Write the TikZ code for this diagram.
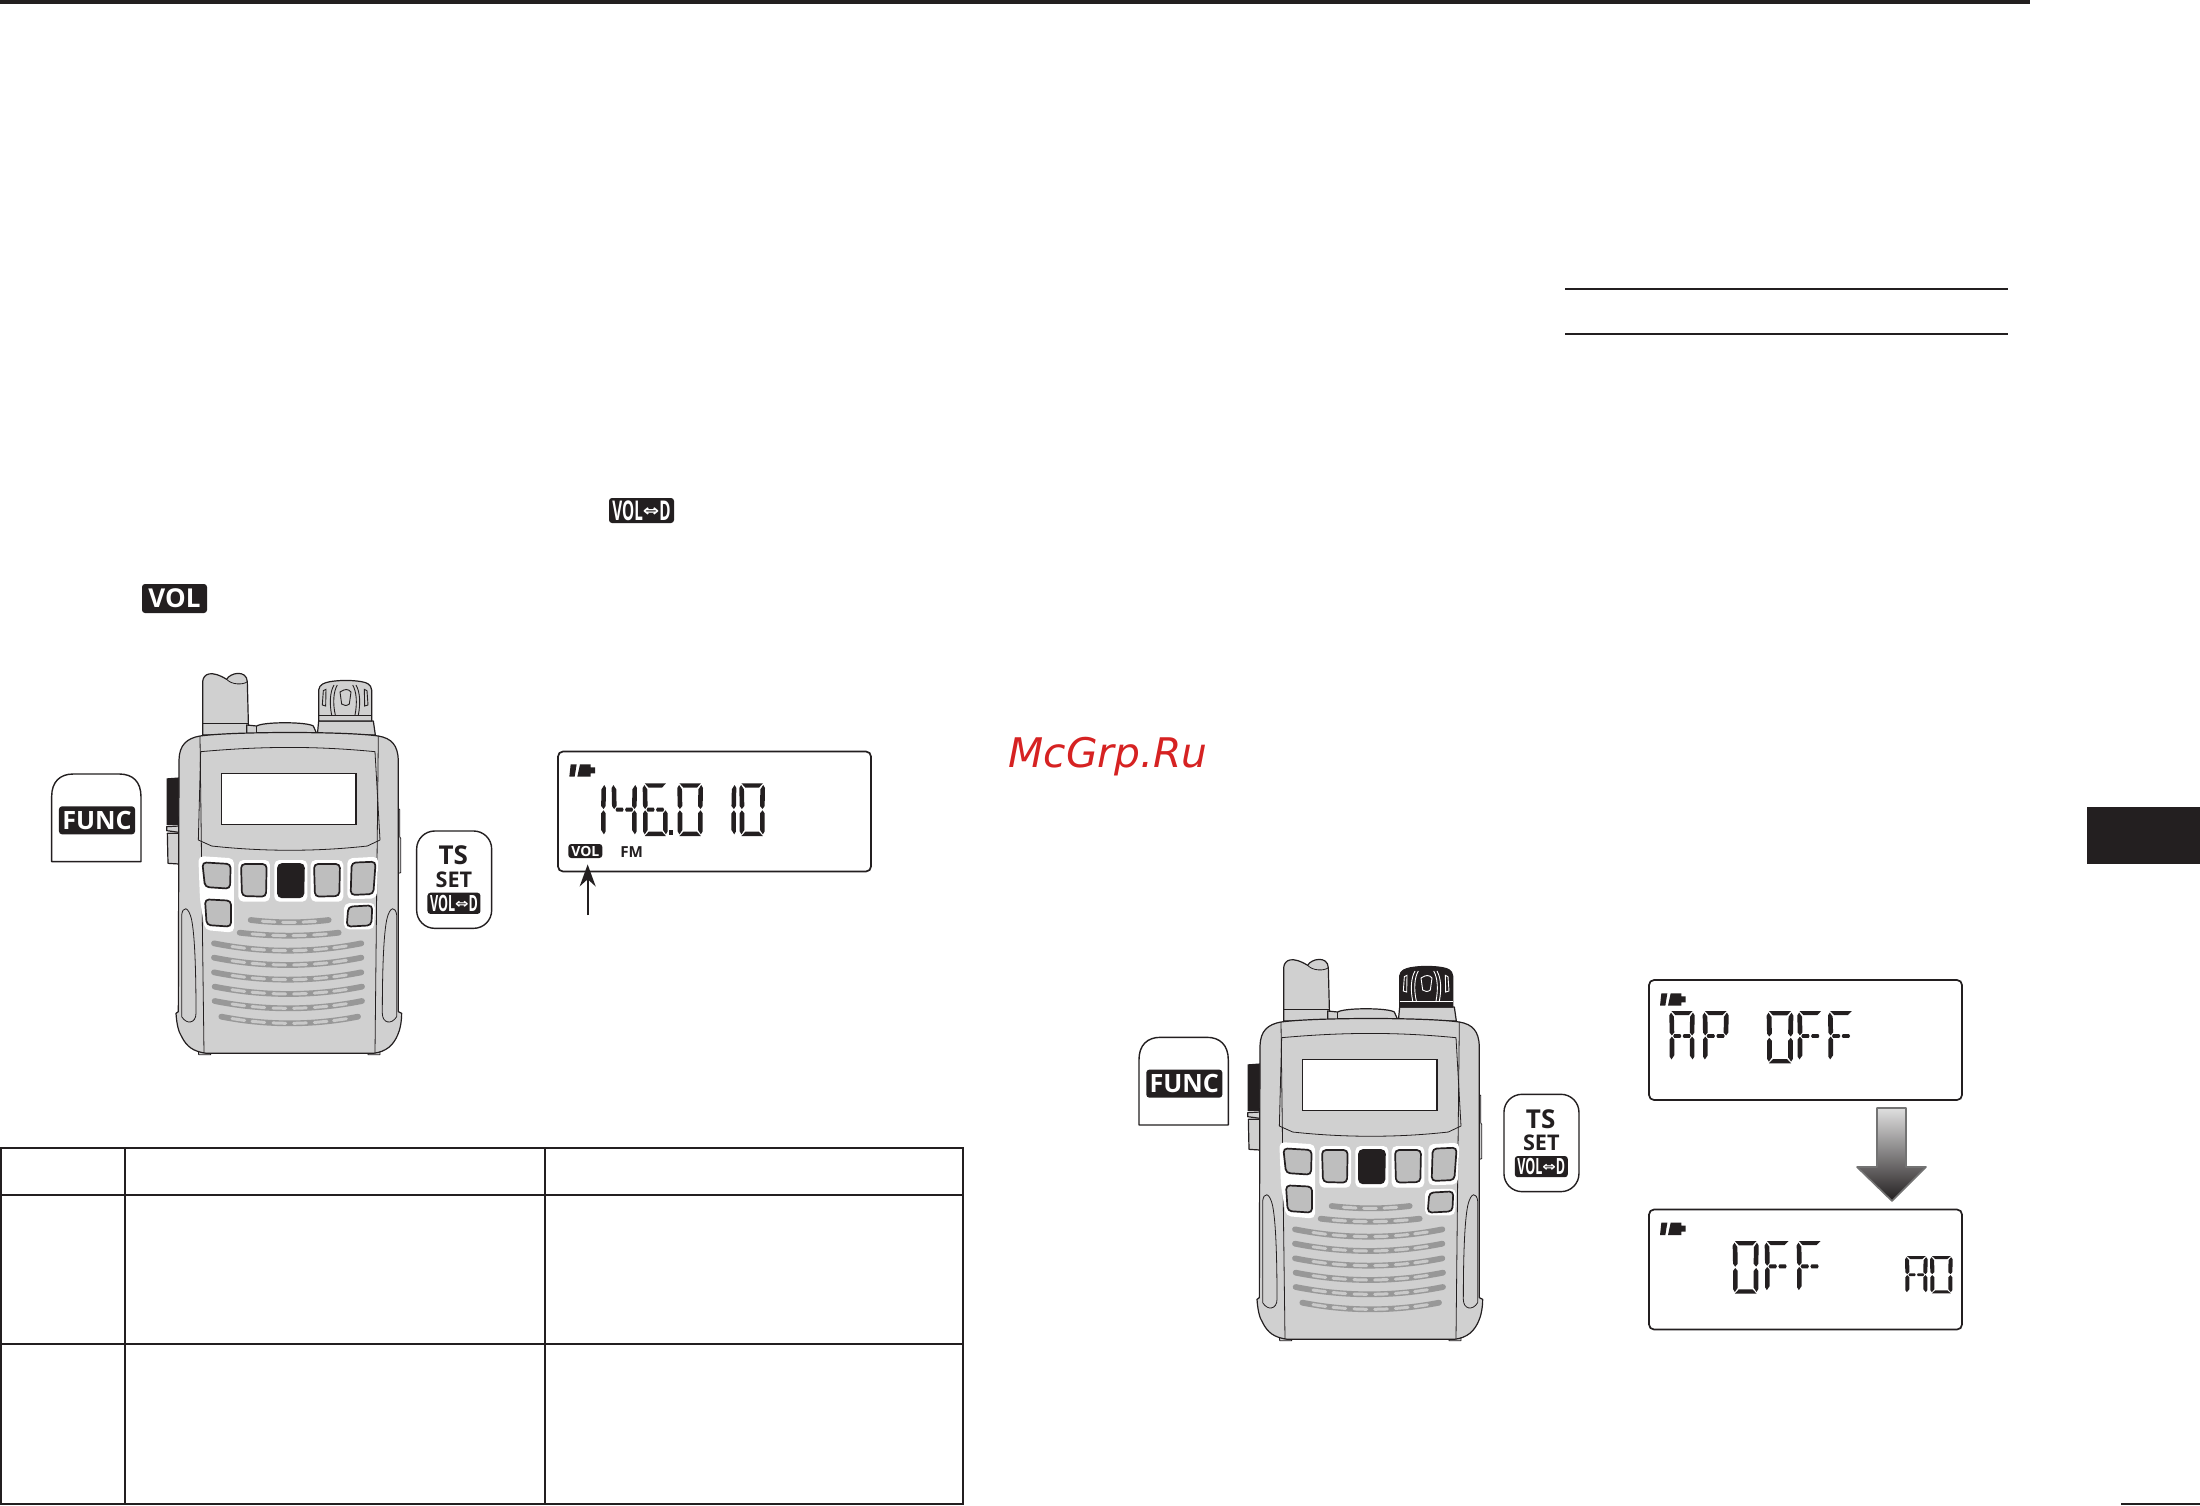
\documentclass[tikz,border=0pt]{standalone}
\usepackage{fontspec}
\usetikzlibrary{arrows.meta}
\setmainfont{Open Sans}
\newfontfamily\symf{DejaVu Sans}
\definecolor{ink}{HTML}{231F20}
\definecolor{bodyg}{HTML}{D0D0D0}
\definecolor{btng}{HTML}{BEBEBE}
\definecolor{grillg}{HTML}{989898}
\definecolor{slotg}{HTML}{CACACA}
\definecolor{wmred}{HTML}{D62222}
\tikzset{
  ruleline/.style={draw=ink,line width=1pt},
  outline/.style={draw=ink,line width=0.6pt,line join=round},
  thinl/.style={draw=ink,line width=0.4pt,line join=round},
  btn/.style={draw=ink,line width=0.85pt,fill=btng,rounded corners=2pt},
  halo/.style={fill=white,rounded corners=2.5pt},
  badge/.style={fill=ink,text=white,rounded corners=1.5pt,inner sep=0pt,align=center},
  keyface/.style={draw=ink,line width=0.7pt,fill=white,line join=round},
  lcdbox/.style={draw=ink,line width=0.85pt,fill=white,rounded corners=2.5pt,inner sep=0pt},
  keytxt/.style={text=ink,inner sep=0pt,font=\bfseries},
}
% seven-segment pieces, in a 72 x 158 cell
\newcommand\sga{\fill[ink] (6,0)--(66,0)--(55,13)--(17,13)--cycle;}
\newcommand\sgd{\fill[ink] (17,145)--(55,145)--(66,158)--(6,158)--cycle;}
\newcommand\sgb{\fill[ink] (67,5)--(72,14)--(71,68)--(65,77)--(58,68)--(59,18)--cycle;}
\newcommand\sgc{\fill[ink] (65,81)--(71,90)--(71,144)--(66,153)--(58,140)--(58,90)--cycle;}
\newcommand\sgf{\fill[ink] (5,5)--(13,18)--(14,68)--(7,77)--(1,68)--(0,14)--cycle;}
\newcommand\sge{\fill[ink] (7,81)--(14,90)--(14,140)--(6,153)--(1,144)--(1,90)--cycle;}
\newcommand\sgl{\fill[ink] (14,73)--(31,73)--(34,79)--(31,85)--(14,85)--(11,79)--cycle;}
\newcommand\sgr{\fill[ink] (41,73)--(58,73)--(61,79)--(58,85)--(41,85)--(38,79)--cycle;}
\newcommand\lcddigit[5]{\begin{scope}[shift={(#1,#2)},xscale=#3/72,yscale=#4/158]#5\end{scope}}
\newcommand\battery[2]{\begin{scope}[shift={(#1,#2)}]
  \fill[ink] (4,0)--(22,0)--(16,37)--(0,37)--cycle;
  \fill[ink] (32,0)--(64,0)--(64,9)--(77,9)--(77,27)--(64,27)--(64,37)--(24,37)--cycle;
\end{scope}}
\newcommand\voldtxt{\bfseries\scalebox{0.56}[1]{VOL}\raisebox{.14em}{\scalebox{0.72}[0.6]{\symf ⇔}}\scalebox{0.56}[1]{D}}
% speaker row: x1,x2,end y,dip,slot centres
\newcommand\grillrow[5]{%
  \pgfmathsetmacro\gm{(#1+#2)/2}\pgfmathsetmacro\gh{(#2-#1)/2}
  \draw[grillg,line width=2.9pt,line cap=round] (#1,#3) .. controls ({#1+\gh*0.66},{#3+#4*1.33}) and ({#2-\gh*0.66},{#3+#4*1.33}) .. (#2,#3);
  \foreach \sx in {#5}{
    \pgfmathsetmacro\ta{(\sx-19-\gm)/\gh}
    \pgfmathsetmacro\tb{(\sx+19-\gm)/\gh}
    \pgfmathsetmacro\ya{#3+#4*(1-\ta*\ta)}
    \pgfmathsetmacro\yb{#3+#4*(1-\tb*\tb)}
    \draw[slotg,line width=1.5pt,line cap=round] (\sx-19,\ya) -- (\sx+19,\yb);
  }}
\newcommand\radio[4]{\begin{scope}[shift={(#1,#2)},scale=1/3]
  % antenna
  \filldraw[outline,fill=bodyg] (518,285)--(518,125) .. controls (520,100) and (545,90) .. (590,118) .. controls (600,98) and (650,88) .. (652,125)--(656,285)--cycle;
  \draw[thinl] (590,118) .. controls (605,135) and (640,135) .. (652,125);
  \draw[thinl] (518,250)--(656,250);
  % top ridge
  \filldraw[outline,fill=bodyg] (650,255)--(680,258) .. controls (700,245) and (830,245) .. (850,258)--(862,285)--(650,285)--cycle;
  \draw[thinl] (680,258)--(680,280);
  % knob
  \filldraw[outline,fill=bodyg] (862,285)--(866,243)--(1030,243)--(1036,285)--cycle;
  \filldraw[outline,fill=#3] (866,243)--(866,150) .. controls (868,132) and (885,128) .. (900,125) .. controls (930,120) and (965,120) .. (995,125) .. controls (1010,128) and (1023,132) .. (1025,150)--(1025,243)--cycle;
  \draw[#4,line width=0.4pt] (866,227)--(1025,227);
  \draw[#4,line width=0.45pt] (930,156) .. controls (945,146) and (955,146) .. (963,156)--(958,192) .. controls (950,198) and (942,198) .. (935,192)--cycle;
  \draw[#4,line width=0.45pt] (905,225) .. controls (898,190) and (900,155) .. (912,135);
  \draw[#4,line width=0.45pt] (916,225) .. controls (908,190) and (910,155) .. (922,135);
  \draw[#4,line width=0.45pt] (985,225) .. controls (992,190) and (990,155) .. (978,135);
  \draw[#4,line width=0.45pt] (975,225) .. controls (982,190) and (980,155) .. (968,135);
  \draw[#4,line width=0.45pt] (877,195)--(880,152)--(888,148)--(887,198)--cycle;
  \draw[#4,line width=0.45pt] (1014,195)--(1011,152)--(1003,148)--(1004,198)--cycle;
  % side controls
  \fill[ink] (410,415)--(450,412)--(450,555)--(410,555)--cycle;
  \filldraw[outline,fill=bodyg] (412,580)--(447,580)--(447,672)--(414,670)--cycle;
  \filldraw[outline,fill=bodyg] (410,560)--(447,558)--(447,577)--(410,572)--cycle;
  \filldraw[thinl,fill=bodyg] (1098,505)--(1109,508)--(1109,590)--(1112,595)--(1112,698)--(1098,702)--cycle;
  % feet
  \filldraw[thinl,fill=bodyg] (505,1225)--(540,1225)--(542,1244)--(506,1244)--cycle;
  \filldraw[thinl,fill=bodyg] (1014,1225)--(1049,1225)--(1050,1244)--(1014,1244)--cycle;
  % body
  \filldraw[outline,fill=bodyg] (510,288) .. controls (470,295) and (448,315) .. (447,360)--(445,1115)--(438,1120) .. controls (440,1150) and (445,1175) .. (455,1190) .. controls (470,1220) and (490,1235) .. (530,1240)--(1030,1240) .. controls (1070,1235) and (1090,1215) .. (1103,1185) .. controls (1110,1170) and (1115,1145) .. (1115,1120)--(1105,1115)--(1105,360) .. controls (1103,315) and (1085,295) .. (1045,288) .. controls (950,274) and (610,274) .. cycle;
  \draw[thinl] (510,288)--(522,1240);
  \draw[thinl] (1045,288)--(1035,1240);
  % side grips
  \draw[thinl] (455,1130)--(455,825) .. controls (458,800) and (475,795) .. (485,840) .. controls (497,900) and (498,1050) .. (498,1120) .. controls (498,1150) and (470,1155) .. (455,1130);
  \draw[thinl] (1100,1130)--(1100,825) .. controls (1097,800) and (1080,795) .. (1070,840) .. controls (1058,900) and (1057,1050) .. (1057,1120) .. controls (1057,1150) and (1085,1155) .. (1100,1130);
  % display bezel and window
  \draw[thinl] (512,335) .. controls (700,318) and (860,318) .. (1035,335)--(1050,600)--(1012,618) .. controls (860,635) and (700,635) .. (545,618)--(505,600)--cycle;
  \filldraw[draw=ink,line width=0.7pt,fill=white] (575,400) rectangle (978,553);
  % button halos
  \fill[halo] (505,648)--(612,655)--(612,878)--(525,870)--(510,780)--cycle;
  \fill[halo] (625,660)--(720,660)--(720,785)--(625,785)--cycle;
  \fill[halo] (733,660)--(832,660)--(832,785)--(733,785)--cycle;
  \fill[halo] (842,660)--(940,660)--(940,785)--(842,785)--cycle;
  \fill[halo] (952,655)--(1045,650)--(1040,775)--(952,778)--cycle;
  \fill[halo] (942,790)--(1035,788)--(1032,868)--(942,868)--cycle;
  % buttons
  \path[btn] (517,667)--(602,672)--(600,746)--(525,741)--cycle;
  \path[btn] (633,672)--(710,672)--(708,770)--(636,768)--cycle;
  \path[btn,fill=ink] (744,672)--(822,672)--(820,772)--(744,772)--cycle;
  \path[btn] (852,672)--(930,672)--(928,768)--(855,770)--cycle;
  \path[btn] (965,668)--(1037,665)--(1030,762)--(962,765)--cycle;
  \path[btn] (525,778)--(603,782)--(603,860)--(530,855)--cycle;
  \path[btn] (955,800)--(1027,796)--(1024,856)--(950,860)--cycle;
  % speaker
  \grillrow{662}{896}{840}{7}{716,777,838}
  \grillrow{629}{926}{878}{9}{685,747,808,870}
  \grillrow{552}{994}{910}{22}{625,685,748,810,872,930}
  \grillrow{552}{994}{953}{22}{625,685,748,810,872,930}
  \grillrow{552}{994}{997}{22}{625,685,748,810,872,930}
  \grillrow{554}{996}{1040}{22}{625,685,748,810,872,930}
  \grillrow{554}{996}{1083}{22}{625,685,748,810,872,930}
  \grillrow{574}{984}{1130}{20}{625,685,748,810,872,930}
\end{scope}}
\newcommand\funckey[3]{\begin{scope}[shift={(#2,#3)},scale=1/3]
  \path[keyface] (65,665)--(65,470) .. controls (65,425) and (90,402) .. (130,402)--(268,402) .. controls (308,402) and (333,425) .. (333,470)--(333,665)--cycle;
  \node[badge,minimum width=38pt,minimum height=14pt,font=\fontsize{12.6}{13}\selectfont\bfseries] (#1) at (201,541) {FUNC};
\end{scope}}
\newcommand\tskey[3]{\begin{scope}[shift={(#2,#3)},scale=1/3]
  \draw[keyface,rounded corners=9pt] (1160,573) rectangle (1385,865);
  \node[keytxt,font=\fontsize{13}{14}\selectfont\bfseries] (#1t) at (1270,647) {TS};
  \node[keytxt,font=\fontsize{10.8}{12}\selectfont\bfseries] (#1s) at (1272,718) {SET};
  \node[badge,minimum width=26.5pt,minimum height=10.6pt] (#1v) at (1272,790) {\fontsize{11.2}{12}\selectfont\voldtxt};
\end{scope}}
\begin{document}
\begin{tikzpicture}[x=0.5pt,y=-0.5pt]
\useasboundingbox (0,0) rectangle (2200,1505);
\fill[white] (0,0) rectangle (2200,1505);
% page furniture
\fill[ink] (0,0) rectangle (2030,4);
\draw[ruleline] (1565,289)--(2008,289);
\draw[ruleline] (1565,334)--(2008,334);
\fill[ink] (2087,807) rectangle (2200,864);
\fill[ink] (2121,1503) rectangle (2200,1505);
% inline icons
\node[badge,minimum width=32.5pt,minimum height=12.5pt] (icvold) at (641.5,510.5) {\fontsize{13.6}{14}\selectfont\voldtxt};
\node[badge,minimum width=32.5pt,minimum height=14.5pt,font=\fontsize{13}{14}\selectfont\bfseries] (icvol) at (174.5,598.5) {VOL};
% left figure
\funckey{funcA}{30}{640}
\radio{30}{640}{bodyg}{ink}
\tskey{tsA}{30}{640}
\node[lcdbox,minimum width=156.5pt,minimum height=60pt] (lcdA) at (714.5,811.5) {};
\begin{scope}[shift={(530,730)},scale=1/3]
  \battery{118}{103}
  \lcddigit{153}{160}{75}{158}{\sgb\sgc}
  \lcddigit{245}{160}{76}{158}{\sgf\sgb\sgc\sgl\sgr}
  \lcddigit{338}{160}{76}{158}{\sga\sgf\sge\sgd\sgc\sgl\sgr}
  \fill[ink] (416,300) rectangle (428,316);
  \lcddigit{442}{160}{77}{158}{\sga\sgb\sgc\sgd\sge\sgf}
  \lcddigit{544}{160}{75}{158}{\sgb\sgc}
  \lcddigit{628}{160}{77}{158}{\sga\sgb\sgc\sgd\sge\sgf}
  \node[badge,minimum width=17pt,minimum height=7pt,font=\fontsize{7}{8}\selectfont\bfseries] (volA) at (166,363) {VOL};
  \node[inner sep=0pt,text=ink,font=\fontsize{7.6}{8}\selectfont\bfseries] (fmA) at (305,366) {FM};
  \coordinate (arrA) at (173,555);
\end{scope}
\draw[draw=ink,line width=0.9pt,-{Stealth[length=11pt,width=8pt]},shorten >=3pt] (arrA) -- (volA.south -| arrA);
% right figure
\funckey{funcB}{1117.3}{903.3}
\radio{1111}{926}{ink}{white}
\tskey{tsB}{1117.3}{903.3}
\node[lcdbox,minimum width=156.5pt,minimum height=60pt] (lcdB) at (1805.5,1040) {};
\node[lcdbox,minimum width=156.5pt,minimum height=60pt] (lcdC) at (1805.5,1269.5) {};
\begin{scope}[shift={(1620,960)},scale=1/3]
  \battery{120}{100}
  \lcddigit{148}{153}{76}{150}{\sga\sgb\sgc\sge\sgf\sgl\sgr}
  \lcddigit{248}{153}{78}{150}{\sga\sgb\sge\sgf\sgl\sgr}
  \lcddigit{440}{153}{80}{157}{\sga\sgb\sgc\sgd\sge\sgf}
  \lcddigit{532}{153}{78}{150}{\sga\sge\sgf\sgl\sgr}
  \lcddigit{624}{153}{78}{150}{\sga\sge\sgf\sgl\sgr}
  \battery{120}{788}
  \lcddigit{338}{843}{78}{158}{\sga\sgb\sgc\sgd\sge\sgf}
  \lcddigit{434}{843}{78}{152}{\sga\sge\sgf\sgl\sgr}
  \lcddigit{530}{843}{78}{152}{\sga\sge\sgf\sgl\sgr}
  \lcddigit{855}{888}{68}{112}{\sga\sgb\sgc\sge\sgf\sgl\sgr}
  \lcddigit{930}{888}{68}{112}{\sga\sgb\sgc\sgd\sge\sgf}
\end{scope}
\path[top color=gray!25,bottom color=ink,draw=gray!90!black,line width=0.8pt,line join=round]
  (1877,1108)--(1906,1108)--(1906,1167)--(1926,1167)--(1892,1201)--(1857,1167)--(1877,1167)--cycle;
% table
\draw[ruleline] (1,1148) rectangle (963,1504);
\draw[ruleline] (1,1195)--(963,1195);
\draw[ruleline] (1,1344)--(963,1344);
\draw[ruleline] (125,1148)--(125,1504);
\draw[ruleline] (545,1148)--(545,1504);
% watermark
\node[anchor=base west,inner sep=0pt,text=wmred,font=\symf\itshape\fontsize{20.4}{21}\selectfont] (wm) at (1008,767) {McGrp.Ru};
\end{tikzpicture}
\end{document}
